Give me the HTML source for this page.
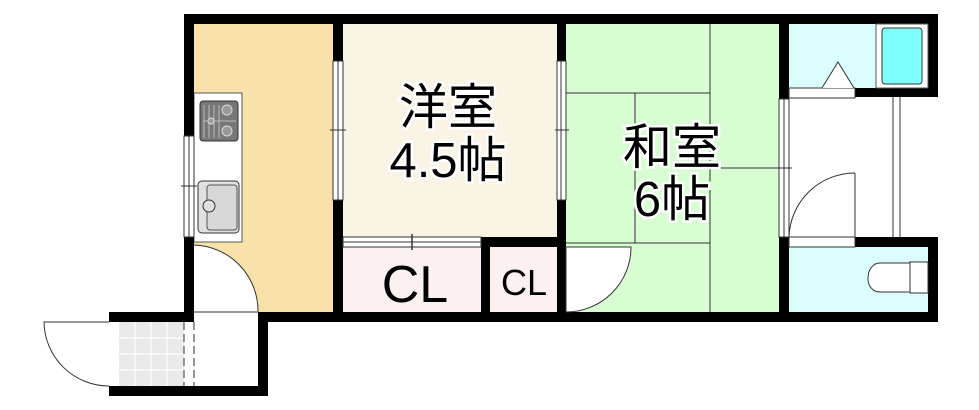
<!DOCTYPE html>
<html><head><meta charset="utf-8"><style>
html,body{margin:0;padding:0;background:#fff;width:979px;height:410px;overflow:hidden}
</style></head><body>
<svg width="979" height="410" viewBox="0 0 979 410" xmlns="http://www.w3.org/2000/svg" font-family="Liberation Sans, Noto Sans CJK JP, sans-serif">
<rect x="194" y="24" width="139" height="288" fill="#f8e2aa"/>
<path d="M194 245 A66 66 0 0 1 258 312 L194 312 Z" fill="#fff"/>
<rect x="194" y="312" width="64" height="10" fill="#fff"/>
<rect x="343" y="24" width="214" height="213" fill="#faf4e6"/>
<rect x="343" y="247" width="138" height="65" fill="#fdf0f0"/>
<rect x="490" y="247" width="67" height="65" fill="#fdf0f0"/>
<rect x="566" y="24" width="213" height="288" fill="#d9fdd3"/>
<rect x="789" y="24" width="139" height="64" fill="#dcfdfd"/>
<rect x="789" y="247" width="139" height="65" fill="#dcfdfd"/>
<rect x="119" y="322" width="65" height="64" fill="#eaeaea"/>
<g stroke="#fff" stroke-width="1.2">
<line x1="119" y1="338" x2="184" y2="338"/><line x1="119" y1="354" x2="184" y2="354"/><line x1="119" y1="370" x2="184" y2="370"/>
<line x1="135" y1="322" x2="135" y2="386"/><line x1="151" y1="322" x2="151" y2="386"/><line x1="167" y1="322" x2="167" y2="386"/>
</g>
<g stroke="#333" stroke-width="1" fill="none">
<line x1="710" y1="24" x2="710" y2="312"/>
<line x1="566" y1="93" x2="710" y2="93"/>
<line x1="566" y1="243" x2="710" y2="243"/>
<line x1="635" y1="93" x2="635" y2="243"/>
<line x1="710" y1="168" x2="779" y2="168"/>
</g>
<rect x="194" y="93" width="48" height="149" fill="#fff" stroke="#555" stroke-width="1"/>
<rect x="200" y="101" width="38" height="40" rx="3" fill="#777" stroke="#333"/>
<g stroke="#bbb" stroke-width="1"><line x1="204" y1="105" x2="204" y2="138"/><line x1="209" y1="105" x2="209" y2="138"/><line x1="214" y1="105" x2="214" y2="138"/><line x1="219" y1="105" x2="219" y2="138"/><line x1="203" y1="121" x2="236" y2="121"/></g>
<circle cx="227" cy="110" r="5" fill="#999" stroke="#ddd"/><circle cx="227" cy="131" r="5" fill="#999" stroke="#ddd"/><circle cx="211" cy="121" r="3" fill="#999" stroke="#ddd"/>
<rect x="198" y="181" width="41" height="52" rx="4" fill="#e0e0e0" stroke="#333"/>
<rect x="207" y="185" width="30" height="45" rx="3" fill="#d8d8d8" stroke="#555"/>
<circle cx="209" cy="206" r="6" fill="#e0e0e0" stroke="#333"/>
<g fill="#000">
<rect x="184" y="14" width="754" height="10"/>
<rect x="184" y="14" width="10" height="308"/>
<rect x="333" y="14" width="10" height="308"/>
<rect x="557" y="14" width="9" height="308"/>
<rect x="779" y="14" width="10" height="308"/>
<rect x="928" y="14" width="10" height="83"/>
<rect x="928" y="237" width="10" height="85"/>
<rect x="258" y="312" width="680" height="10"/>
<rect x="855" y="88" width="83" height="9"/>
<rect x="855" y="237" width="83" height="10"/>
<rect x="481" y="237" width="85" height="10"/>
<rect x="481" y="237" width="9" height="85"/>
<rect x="109" y="312" width="85" height="10"/>
<rect x="109" y="386" width="159" height="10"/>
<rect x="258" y="312" width="10" height="84"/>
</g>
<g fill="#fff" stroke="#333" stroke-width="1">
<rect x="184" y="136" width="10" height="101"/>
<rect x="333" y="61" width="10" height="139"/>
<rect x="557" y="61" width="9" height="139"/>
<rect x="779" y="99" width="10" height="138"/>
</g>
<line x1="189" y1="136" x2="189" y2="237" stroke="#333"/>
<line x1="338" y1="61" x2="338" y2="200" stroke="#333"/>
<line x1="561" y1="61" x2="561" y2="200" stroke="#333"/>
<line x1="784" y1="99" x2="784" y2="237" stroke="#333"/>
<line x1="181" y1="186" x2="197" y2="186" stroke="#333"/>
<line x1="330" y1="130" x2="346" y2="130" stroke="#333"/>
<line x1="555" y1="130" x2="569" y2="130" stroke="#333"/>
<line x1="776" y1="168" x2="792" y2="168" stroke="#333"/>
<rect x="343" y="237" width="138" height="10" fill="#fff" stroke="#333"/>
<line x1="343" y1="242" x2="481" y2="242" stroke="#333"/>
<line x1="412" y1="234" x2="412" y2="250" stroke="#333" stroke-width="1.5"/>
<g fill="none" stroke="#333" stroke-width="1">
<path d="M194 245 A66 66 0 0 1 258 312"/>
<line x1="194" y1="312" x2="258" y2="312"/>
<path d="M109 322 L44 322 A65 65 0 0 0 109 386"/>
<line x1="184" y1="322" x2="184" y2="386" stroke-dasharray="8 4"/>
<line x1="194" y1="322" x2="194" y2="386" stroke-dasharray="8 4"/>
<path d="M566 312 L566 247 L631 247 A65 65 0 0 1 566 312 Z" fill="#fff"/>
<path d="M855 173 L855 237 M789 237 A66 66 0 0 1 855 173"/>
<rect x="789" y="88" width="66" height="10" fill="#fff"/>
<rect x="789" y="237" width="66" height="10" fill="#fff"/>
<line x1="893" y1="97" x2="893" y2="237"/><line x1="900" y1="97" x2="900" y2="237"/>
</g>
<rect x="876" y="24" width="52" height="64" fill="#fff" stroke="#555"/>
<rect x="882" y="28" width="40" height="56" rx="3" fill="#80ffff" stroke="#333"/>
<path d="M822 88 L838 62 L854 88" fill="#fff" stroke="#333"/>
<path d="M910 263 L880 263 C865 263 863 292 880 292 L910 292 Z" fill="#fff" stroke="#333"/>
<rect x="910" y="262" width="18" height="31" fill="#fff" stroke="#333"/>
<g fill="#000" text-anchor="middle" stroke="#fff" stroke-width="5" paint-order="stroke">
<text x="448" y="124" font-size="49">洋室</text>
<text x="448" y="177" font-size="49">4.5帖</text>
<text x="672" y="164" font-size="49">和室</text>
<text x="672" y="216" font-size="49">6帖</text>
</g>
<text x="415" y="302" font-size="52" text-anchor="middle">CL</text>
<text x="524" y="295" font-size="36" text-anchor="middle">CL</text>
</svg>
</body></html>
